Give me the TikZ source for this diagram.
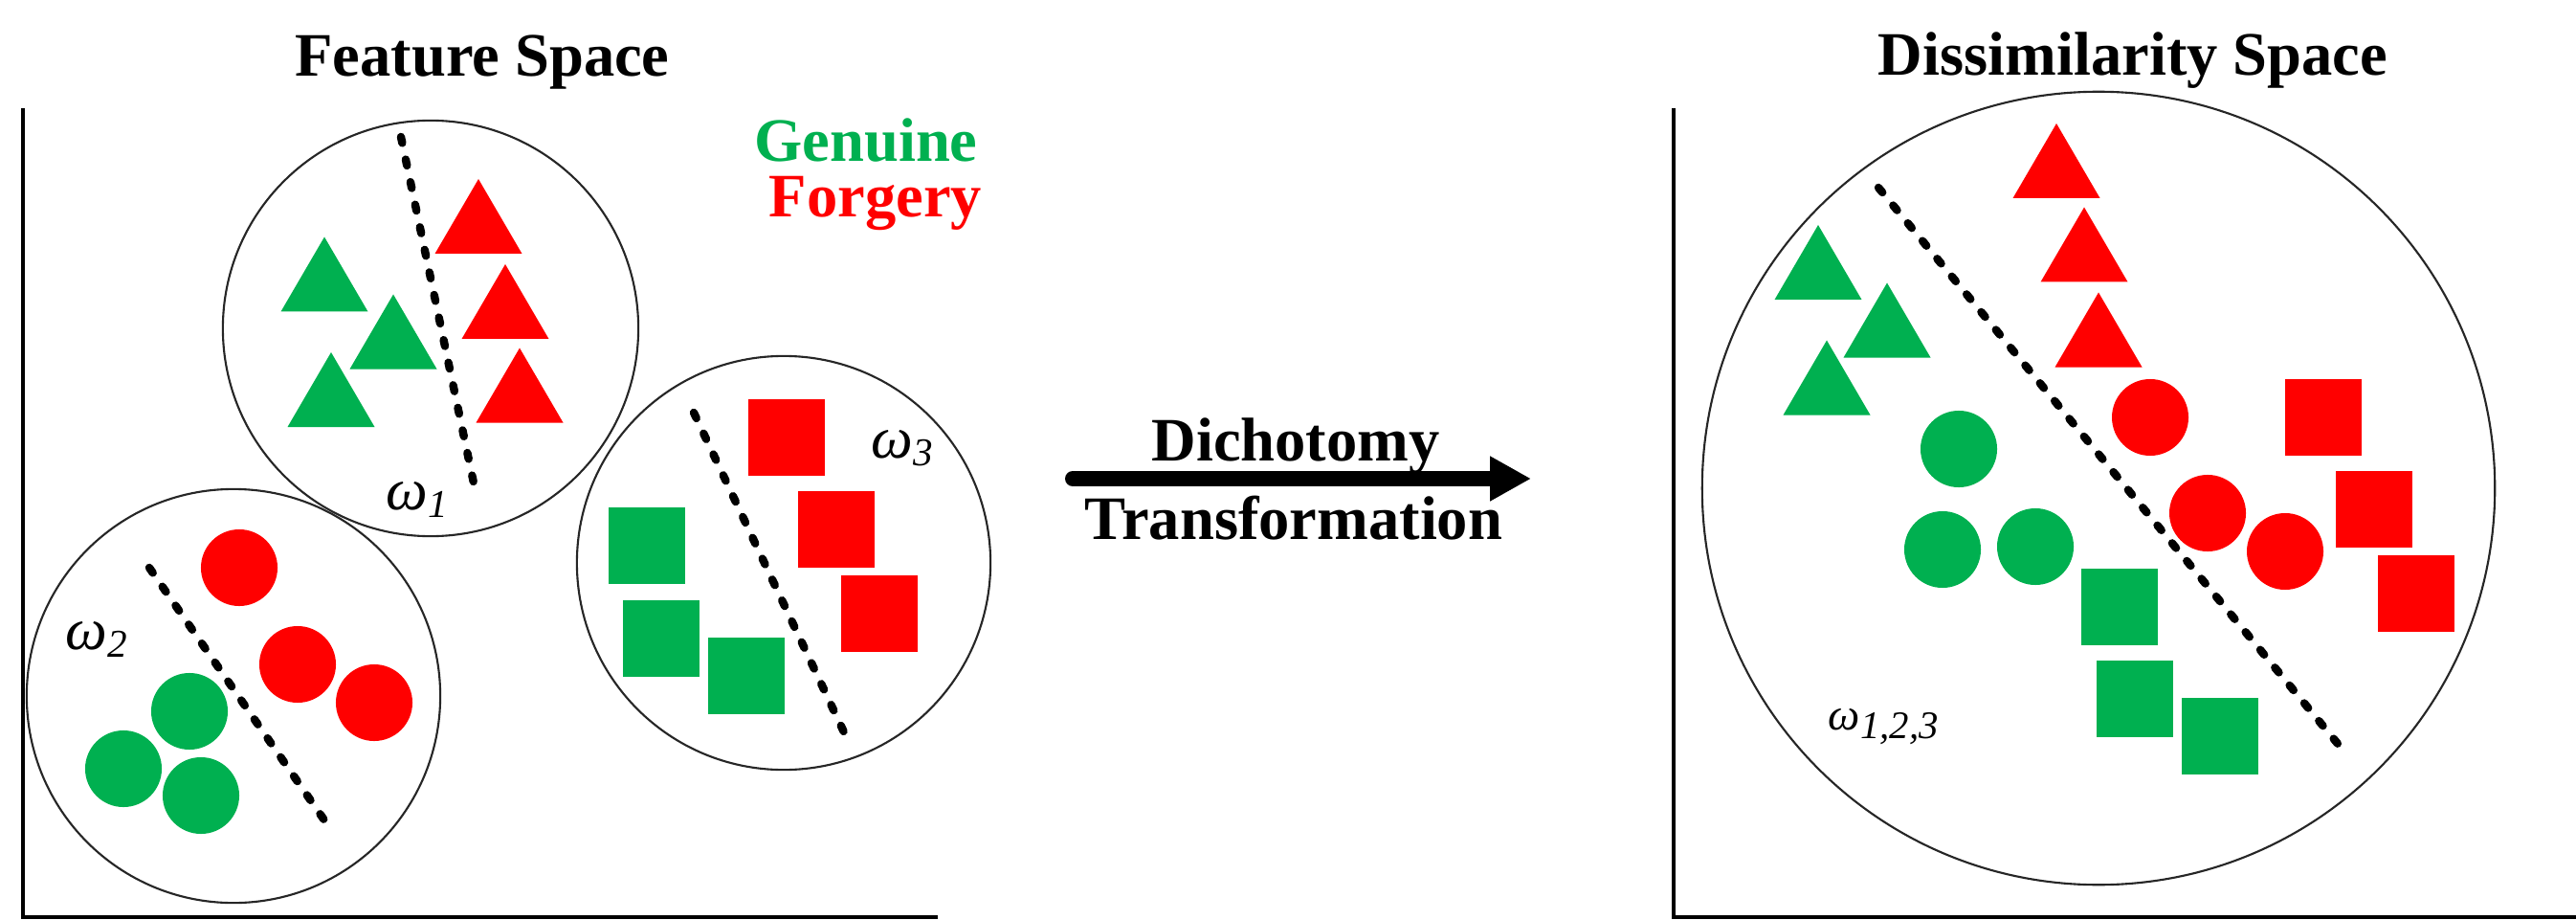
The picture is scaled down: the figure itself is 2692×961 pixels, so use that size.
\documentclass[tikz,border=0pt]{standalone}
\usepackage{fontspec}
\setmainfont{Liberation Serif}
\usetikzlibrary{arrows.meta}
\definecolor{gcol}{RGB}{0,176,80}
\definecolor{rcol}{RGB}{255,0,0}
\tikzset{
  mytri/.pic={\fill (-45.5,39) -- (0,-39) -- (45.5,39) -- cycle;},
  mysq/.pic={\fill (-40,-40) rectangle (40,40);},
  mydot/.pic={\fill (0,0) circle[radius=0.4cm];},
  title/.style={font=\fontsize{18.35pt}{22pt}\selectfont\bfseries, inner sep=0pt, anchor=base},
  axisline/.style={line width=1.15pt, black},
  cluster/.style={line width=0.6pt, black!85},
  sepline/.style={line width=2.4pt, line cap=round, dash pattern=on 1.85pt off 5pt, black},
  wlab/.style={font=\fontsize{17.6pt}{20pt}\selectfont\itshape, inner sep=0pt, anchor=base west},
  wlabsmall/.style={font=\fontsize{13.4pt}{16pt}\selectfont\itshape, inner sep=0pt, anchor=base west},
  bigarrow/.style={line width=4.55pt, line cap=round, -{Triangle[length=12.2pt,width=12.5pt]}}
}
\begin{document}
\begin{tikzpicture}[x=0.01cm,y=-0.01cm]
\fill[white] (0,0) rectangle (2692,961);
\useasboundingbox (0,0) rectangle (2692,961);

% ---------- Feature space ----------
\node[title] (ftitle) at (504,80) {Feature Space};
\coordinate (fTop) at (24,113);
\coordinate (fOrig) at (24,958);
\coordinate (fRight) at (980,958);
\draw[axisline] (fTop) -- (fOrig) -- (fRight);

\node[title, text=gcol] (gen) at (905,169) {Genuine};
\node[title, text=rcol] (forg) at (915,227) {Forgery};

% cluster omega1
\draw[cluster] (450,343) circle[radius=2.17cm];
\foreach \x/\y in {339/286.5, 411/346.5, 346/407} \pic[fill=gcol] at (\x,\y) {mytri};
\foreach \x/\y in {500/226, 528/315, 543/402.5} \pic[fill=rcol] at (\x,\y) {mytri};
\coordinate (s1a) at (419,143); \coordinate (s1b) at (497,514);
\draw[sepline] (s1a) -- (s1b);
\node[wlab] (w1) at (403,532) {ω\raisebox{-2.3pt}{\fontsize{11.7pt}{13pt}\selectfont 1}};

% cluster omega2
\draw[cluster] (244,727) circle[radius=2.16cm];
\foreach \x/\y in {250/593, 311/694, 391/734} \pic[fill=rcol] at (\x,\y) {mydot};
\foreach \x/\y in {198/743, 129/803, 210/831} \pic[fill=gcol] at (\x,\y) {mydot};
\coordinate (s2a) at (156,593); \coordinate (s2b) at (344,864);
\draw[sepline] (s2a) -- (s2b);
\node[wlab] (w2) at (68,678) {ω\raisebox{-2.3pt}{\fontsize{11.7pt}{13pt}\selectfont 2}};

% cluster omega3
\draw[cluster] (819,588) circle[radius=2.16cm];
\foreach \x/\y in {822/457, 874/553, 919/641} \pic[fill=rcol] at (\x,\y) {mysq};
\foreach \x/\y in {676/570, 691/667, 780/706} \pic[fill=gcol] at (\x,\y) {mysq};
\coordinate (s3a) at (725,431); \coordinate (s3b) at (883,767);
\draw[sepline] (s3a) -- (s3b);
\node[wlab] (w3) at (910,478) {ω\raisebox{-2.3pt}{\fontsize{11.7pt}{13pt}\selectfont 3}};

% ---------- Transformation arrow ----------
\coordinate (arrS) at (1121,500);
\coordinate (arrE) at (1600,500);
\draw[bigarrow] (arrS) -- (arrE);
\node[title] (dich) at (1354,481) {Dichotomy};
\node[title] (trans) at (1352,563) {Transformation};

% ---------- Dissimilarity space ----------
\node[title] (dtitle) at (2229,79) {Dissimilarity Space};
\coordinate (dTop) at (1749,113);
\coordinate (dOrig) at (1749,958);
\coordinate (dRight) at (2692,958);
\draw[axisline] (dTop) -- (dOrig) -- (dRight);

\draw[cluster] (2193,510) circle[radius=4.14cm];
\foreach \x/\y in {2149/168, 2178/255.5, 2193/344.5} \pic[fill=rcol] at (\x,\y) {mytri};
\foreach \x/\y in {1900/274, 1972/334.5, 1909/394.5} \pic[fill=gcol] at (\x,\y) {mytri};
\foreach \x/\y in {2247/436, 2307/536, 2388/576} \pic[fill=rcol] at (\x,\y) {mydot};
\foreach \x/\y in {2047/469, 2030/574, 2127/571} \pic[fill=gcol] at (\x,\y) {mydot};
\foreach \x/\y in {2428/436, 2481/532, 2525/620} \pic[fill=rcol] at (\x,\y) {mysq};
\foreach \x/\y in {2215/634, 2231/730, 2320/769} \pic[fill=gcol] at (\x,\y) {mysq};
\coordinate (s4a) at (1963,196); \coordinate (s4b) at (2453,789);
\draw[sepline] (s4a) -- (s4b);
\node[wlabsmall] (w123) at (1910,762) {ω\raisebox{-2.8pt}{\fontsize{11.6pt}{13pt}\selectfont 1,2,3}};
\end{tikzpicture}
\end{document}
